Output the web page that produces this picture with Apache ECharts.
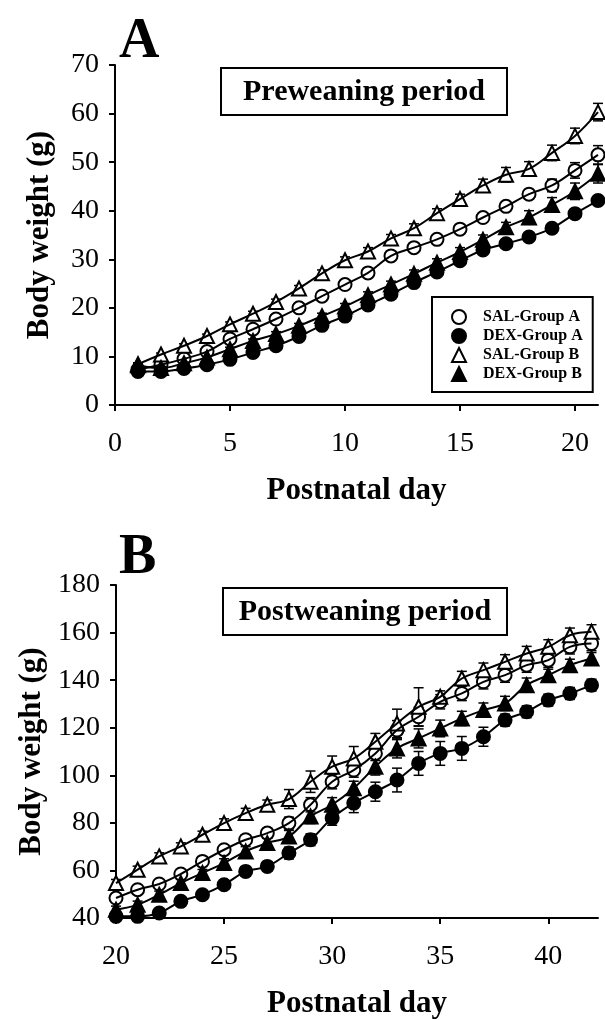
<!DOCTYPE html>
<html>
<head>
<meta charset="utf-8">
<script src="https://cdn.jsdelivr.net/npm/echarts@6/dist/echarts.min.js"></script>
<style>
  html, body { margin: 0; padding: 0; background: #fff; }
  #chart { width: 605px; height: 1020px; }
</style>
</head>
<body>
<div id="chart"></div>
<script>
var chart = echarts.init(document.getElementById('chart'));

// Panel A: preweaning period (days 1-21)
var daysA = [1, 2, 3, 4, 5, 6, 7, 8, 9, 10, 11, 12, 13, 14, 15, 16, 17, 18, 19, 20, 21];
var salA_A = [7.3, 8.3, 9.5, 11.0, 13.6, 15.6, 17.7, 20.0, 22.4, 24.8, 27.2, 30.7, 32.4, 34.1, 36.2, 38.6, 40.9, 43.4, 45.2, 48.3, 51.5];
var dexA_A = [6.9, 6.9, 7.5, 8.3, 9.4, 10.8, 12.2, 14.1, 16.4, 18.3, 20.6, 22.8, 25.2, 27.4, 29.7, 31.9, 33.2, 34.6, 36.4, 39.4, 42.1];
var salB_A = [8.4, 10.4, 12.2, 14.2, 16.6, 18.8, 21.2, 24.0, 27.1, 29.8, 31.6, 34.3, 36.4, 39.5, 42.4, 45.2, 47.4, 48.6, 51.9, 55.4, 60.3];
var dexB_A = [8.2, 7.6, 8.6, 9.8, 11.5, 13.2, 14.6, 16.3, 18.3, 20.3, 22.6, 24.8, 27.0, 29.3, 31.5, 34.0, 36.6, 38.6, 41.2, 44.0, 47.6];
var errSalA_A = [0.3, 0.3, 0.3, 0.4, 0.4, 0.5, 0.5, 0.5, 0.6, 0.6, 0.6, 0.7, 0.7, 0.8, 0.8, 0.9, 0.9, 1.0, 1.3, 1.6, 1.9];
var errDexA_A = [0.3, 0.3, 0.3, 0.3, 0.4, 0.4, 0.4, 0.5, 0.5, 0.5, 0.6, 0.6, 0.6, 0.7, 0.7, 0.8, 0.8, 0.8, 0.9, 1.0, 1.0];
var errSalB_A = [0.3, 0.3, 0.4, 0.4, 0.5, 0.5, 0.6, 0.6, 0.7, 0.7, 0.8, 0.8, 0.9, 0.9, 1.0, 1.3, 1.5, 1.5, 1.6, 1.6, 1.8];
var errDexB_A = [0.3, 0.3, 0.3, 0.3, 0.4, 0.4, 0.5, 0.5, 0.6, 0.6, 0.7, 0.7, 0.8, 0.8, 0.9, 1.0, 1.0, 1.4, 1.5, 1.7, 1.9];

// Panel B: postweaning period (days 20-42)
var daysB = [20, 21, 22, 23, 24, 25, 26, 27, 28, 29, 30, 31, 32, 33, 34, 35, 36, 37, 38, 39, 40, 41, 42];
var salA_B = [48.4, 51.9, 54.3, 58.5, 63.8, 68.7, 72.9, 75.7, 79.9, 87.6, 97.3, 102.2, 109.2, 119.0, 124.6, 130.9, 134.4, 139.3, 142.1, 146.3, 148.4, 154.0, 155.4];
var dexA_B = [40.7, 40.7, 42.1, 47.0, 49.8, 54.0, 59.6, 61.7, 67.3, 72.9, 82.0, 88.3, 93.1, 98.0, 105.0, 109.2, 111.3, 116.2, 123.2, 126.7, 131.6, 134.4, 137.9];
var salB_B = [54.7, 60.3, 65.9, 70.1, 75.0, 79.9, 84.1, 87.6, 90.0, 97.3, 103.6, 107.1, 114.1, 121.8, 128.8, 133.0, 140.7, 144.2, 147.7, 151.2, 154.0, 158.9, 160.3];
var dexB_B = [43.5, 45.6, 49.8, 54.7, 58.9, 63.1, 68.0, 71.5, 74.3, 82.7, 87.6, 94.5, 103.6, 111.3, 115.5, 119.7, 123.9, 127.4, 130.2, 137.9, 142.1, 146.3, 149.1];
var errSalA_B = [1.5, 1.5, 1.5, 1.5, 1.5, 1.8, 2, 2, 2.5, 3, 3, 3, 3, 4, 4, 3, 3, 3, 3, 3, 3, 3, 3];
var errDexA_B = [1, 1, 1, 1.5, 1.5, 1.8, 2, 2, 2.5, 2.5, 3, 4, 4, 5, 5, 5, 5, 4, 2.5, 2.5, 2.5, 2.5, 2.5];
var errSalB_B = [1.5, 1.5, 1.5, 1.5, 1.5, 1.8, 2, 2, 4, 4.5, 4.5, 5, 3.5, 6, 8, 2.5, 3, 3, 3, 3, 3, 3, 3];
var errDexB_B = [1.5, 1.5, 1.5, 1.5, 1.5, 1.8, 2, 2, 2.5, 3, 3, 3, 3.5, 4, 4, 3.5, 3, 3, 3, 3, 2.5, 2.5, 2.5];

var ticksA = [0, 5, 10, 15, 20];
var ticksB = [20, 25, 30, 35, 40];
var names = ['SAL-Group A', 'DEX-Group A', 'SAL-Group B', 'DEX-Group B'];

var serif = '"Liberation Serif", "Times New Roman", serif';

function pairs(xs, ys) {
    var out = [];
    for (var i = 0; i < xs.length; i++) out.push([xs[i], ys[i]]);
    return out;
}
function triples(xs, ys, es) {
    var out = [];
    for (var i = 0; i < xs.length; i++) out.push([xs[i], ys[i], es[i]]);
    return out;
}

function renderErr(params, api) {
    var x = api.value(0), y = api.value(1), e = api.value(2);
    var hi = api.coord([x, y + e]);
    var lo = api.coord([x, y - e]);
    var w = 5;
    var st = { stroke: '#000', lineWidth: 1.5 };
    return {
        type: 'group',
        children: [
            { type: 'line', shape: { x1: hi[0], y1: hi[1], x2: lo[0], y2: lo[1] }, style: st },
            { type: 'line', shape: { x1: hi[0] - w, y1: hi[1], x2: hi[0] + w, y2: hi[1] }, style: st },
            { type: 'line', shape: { x1: lo[0] - w, y1: lo[1], x2: lo[0] + w, y2: lo[1] }, style: st }
        ]
    };
}

var markerStyle = [
    { symbol: 'circle', size: 13, color: '#fff' },
    { symbol: 'circle', size: 13, color: '#000' },
    { symbol: 'triangle', size: 14, color: '#fff' },
    { symbol: 'triangle', size: 14, color: '#000' }
];

function panelSeries(idx, days, vals, errs) {
    var lines = [], bars = [], marks = [];
    for (var k = 0; k < 4; k++) {
        lines.push({
            type: 'line', xAxisIndex: idx, yAxisIndex: idx,
            data: pairs(days, vals[k]), smooth: 0.4, symbol: 'none',
            lineStyle: { color: '#000', width: 2 }, silent: true
        });
        bars.push({
            type: 'custom', xAxisIndex: idx, yAxisIndex: idx,
            data: triples(days, vals[k], errs[k]), renderItem: renderErr,
            encode: { x: 0, y: 1 }, silent: true
        });
        marks.push({
            type: 'scatter', name: names[k], xAxisIndex: idx, yAxisIndex: idx,
            data: pairs(days, vals[k]),
            symbol: markerStyle[k].symbol, symbolSize: markerStyle[k].size,
            itemStyle: { color: markerStyle[k].color, borderColor: '#000', borderWidth: 2, opacity: 1 }
        });
    }
    return lines.concat(bars, marks);
}

function xAxis(idx, min, max, ticks) {
    return {
        type: 'value', gridIndex: idx, min: min, max: max, interval: 5,
        name: 'Postnatal day', nameLocation: 'middle', nameGap: 70,
        nameTextStyle: { fontFamily: serif, fontWeight: 'bold', fontSize: 31, color: '#000' },
        axisLine: { lineStyle: { color: '#000', width: 2 } },
        axisTick: { length: 6, lineStyle: { color: '#000', width: 2 }, customValues: ticks },
        axisLabel: { fontFamily: serif, fontSize: 28, color: '#000', margin: 25, customValues: ticks },
        splitLine: { show: false }
    };
}
function yAxis(idx, min, max, step) {
    return {
        type: 'value', gridIndex: idx, min: min, max: max, interval: step,
        name: 'Body weight (g)', nameLocation: 'middle', nameGap: 60,
        nameTextStyle: { fontFamily: serif, fontWeight: 'bold', fontSize: 31, color: '#000' },
        axisLine: { show: true, lineStyle: { color: '#000', width: 2 } },
        axisTick: { show: true, length: 6, lineStyle: { color: '#000', width: 2 } },
        axisLabel: { fontFamily: serif, fontSize: 28, color: '#000', margin: 16 },
        splitLine: { show: false }
    };
}

function periodBox(x, y, w, h, text) {
    return {
        type: 'group', children: [
            { type: 'rect', shape: { x: x, y: y, width: w, height: h },
              style: { fill: '#fff', stroke: '#000', lineWidth: 2 } },
            { type: 'text', x: x + w / 2, y: y + h / 2 + 1,
              style: { text: text, align: 'center', verticalAlign: 'middle', fill: '#000',
                       fontFamily: serif, fontWeight: 'bold', fontSize: 30 } }
        ]
    };
}

var option = {
    backgroundColor: '#fff',
    animation: false,
    title: [
        { text: 'A', left: 114, top: 10, textStyle: { fontFamily: serif, fontWeight: 'bold', fontSize: 56, color: '#000' } },
        { text: 'B', left: 114, top: 526, textStyle: { fontFamily: serif, fontWeight: 'bold', fontSize: 56, color: '#000' } }
    ],
    grid: [
        { left: 115, top: 65, width: 483, height: 340 },
        { left: 116, top: 585, width: 482, height: 335 }
    ],
    xAxis: [xAxis(0, 0, 21, ticksA), xAxis(1, 20, 42.3, ticksB)],
    yAxis: [yAxis(0, 0, 70, 10), yAxis(1, 40, 180, 20)],
    legend: {
        data: names, orient: 'vertical', left: 432, top: 297,
        itemWidth: 14, itemHeight: 14, itemGap: 3, symbolKeepAspect: true,
        borderColor: '#000', borderWidth: 2, padding: [12, 10, 10, 19],
        backgroundColor: '#fff',
        textStyle: { fontFamily: serif, fontWeight: 'bold', fontSize: 16, color: '#000', padding: [0, 0, 0, 12] }
    },
    graphic: [
        periodBox(221, 68, 286, 47, 'Preweaning period'),
        periodBox(223, 588, 284, 47, 'Postweaning period')
    ],
    series: panelSeries(0, daysA, [salA_A, dexA_A, salB_A, dexB_A], [errSalA_A, errDexA_A, errSalB_A, errDexB_A])
        .concat(panelSeries(1, daysB, [salA_B, dexA_B, salB_B, dexB_B], [errSalA_B, errDexA_B, errSalB_B, errDexB_B]))
};

chart.setOption(option);
</script>
</body>
</html>
